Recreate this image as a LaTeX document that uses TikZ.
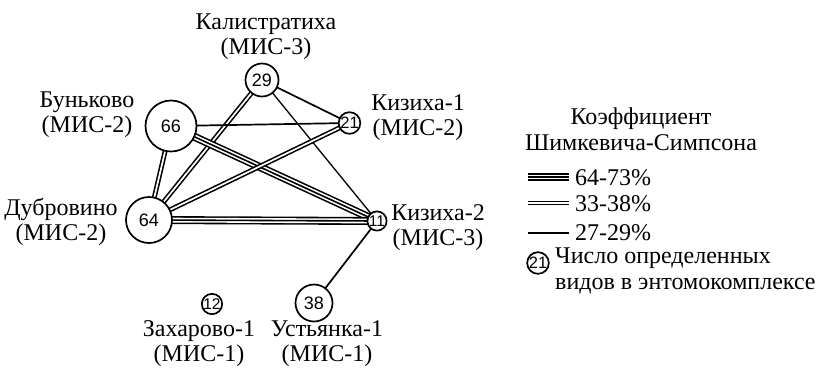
\documentclass[tikz,border=0pt]{standalone}
\usepackage{fontspec}
\setmainfont{Liberation Serif}
\newfontfamily\numfont{Liberation Sans}
\usetikzlibrary{backgrounds}
\begin{document}
\begin{tikzpicture}[x=1pt,y=-1pt,
  lbl/.style={font=\fontsize{24}{25.5}\selectfont, align=center, inner sep=0pt},
  lbll/.style={font=\fontsize{24}{25.5}\selectfont, align=left, inner sep=0pt, anchor=west},
  site/.style={circle, draw, line width=1.7pt, fill=white, inner sep=0pt,
    font=\numfont\fontsize{18}{18}\selectfont},
  smallnum/.style={font=\numfont\fontsize{15.5}{15.5}\selectfont},
  midnum/.style={font=\numfont\fontsize{16.5}{16.5}\selectfont},
  single/.style={line width=1.7pt},
  thinsingle/.style={line width=1.3pt},
  dbl/.style={double, double distance=1.7pt, line width=1.6pt},
  triple/.style={line width=8pt,
    postaction={draw, white, line width=4.8pt},
    postaction={draw, black, line width=1.6pt}},
]
\useasboundingbox (0,0) rectangle (825,368);

% sites
\node[site, minimum size=33pt] (kal) at (262,80) {29};
\node[site, minimum size=51pt] (bun) at (171,126) {66};
\node[site, midnum, minimum size=20pt] (kz1) at (349.5,123) {21};
\node[site, minimum size=46pt] (dub) at (149,220) {64};
\node[site, smallnum, minimum size=19pt] (kz2) at (377,221) {11};
\node[site, minimum size=37pt] (ust) at (314,303) {38};
\node[site, smallnum, minimum size=19pt] (zah) at (212,304) {12};

% labels
\node[lbl] (lkal) at (266,36.5) {Калистратиха\\(МИС-3)};
\node[lbl] (lbun) at (87,114.5) {Буньково\\(МИС-2)};
\node[lbl] (ldub) at (61,222) {Дубровино\\(МИС-2)};
\node[lbl] (lkz1) at (418,117.5) {Кизиха-1\\(МИС-2)};
\node[lbl] (lkz2) at (438,227.5) {Кизиха-2\\(МИС-3)};
\node[lbl] (lzah) at (199,343.5) {Захарово-1\\(МИС-1)};
\node[lbl] (lust) at (327,343.5) {Устьянка-1\\(МИС-1)};

% edges
\begin{scope}[on background layer]
\draw[single] (kal.center) -- (kz1.center);
\draw[thinsingle] (kal.center) -- (kz2.center);
\draw[dbl] (kal.center) -- (dub.center);
\draw[single] (bun.center) -- (kz1.center);
\draw[triple] (bun.center) -- (kz2.center);
\draw[dbl] (bun.center) -- (dub.center);
\draw[dbl] (kz1.center) -- (dub.center);
\draw[triple] (dub.center) -- (kz2.center);
\draw[single] (kz2.center) -- (ust.center);
\end{scope}

% legend
\node[lbl] (ltitle) at (641,129.5) {Коэффициент\\Шимкевича-Симпсона};
\coordinate (a1) at (528,177); \coordinate (b1) at (569,177);
\coordinate (a2) at (528,203); \coordinate (b2) at (569,203);
\coordinate (a3) at (528,233); \coordinate (b3) at (569,233);
\draw[triple] (a1) -- (b1);
\draw[dbl] (a2) -- (b2);
\draw[single] (a3) -- (b3);
\node[lbll] (t1) at (575,178) {64-73\%};
\node[lbll] (t2) at (575,204) {33-38\%};
\node[lbll] (t3) at (575,233) {27-29\%};
\node[site, midnum, minimum size=20pt] (lc) at (538,263) {21};
\node[lbll] (tnum) at (555,271) {Число определенных\\видов в энтомокомплексе};
\end{tikzpicture}
\end{document}
